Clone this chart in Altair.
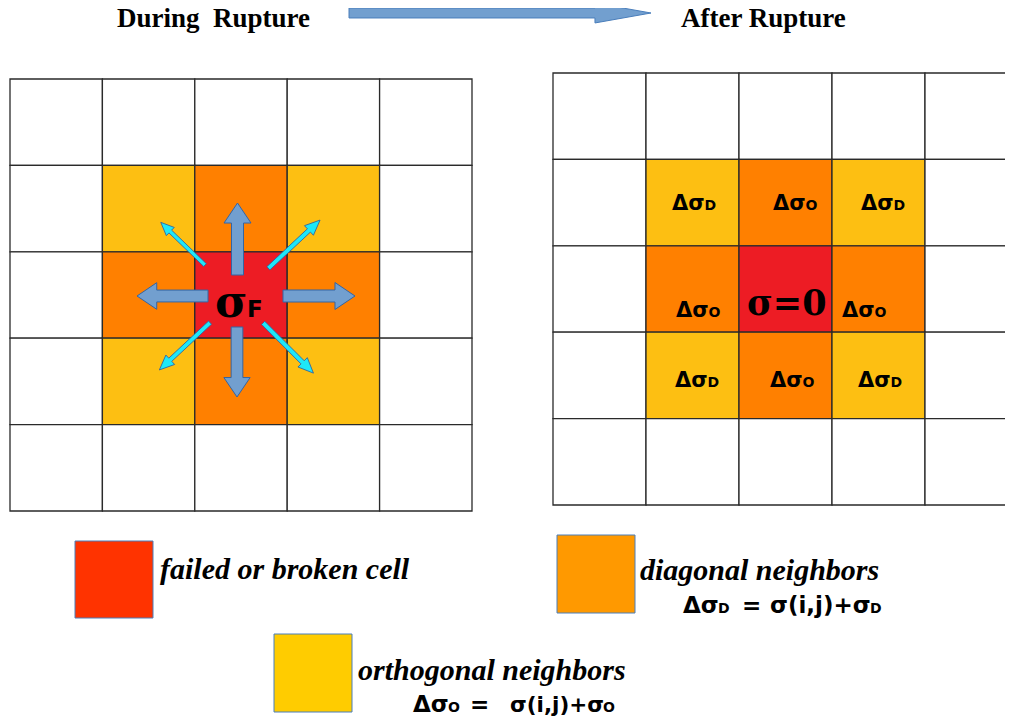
import altair as alt
import pandas as pd

# ---------------- content ----------------
CELL_TYPES = [
    "eeeee",
    "eyoye",
    "eoroe",
    "eyoye",
    "eeeee",
]
CELL_COLORS = {"e": "#FFFFFF", "y": "#FDBF12", "o": "#FF8000", "r": "#ED1C24"}

TITLES = ["During\u00a0 Rupture", "After Rupture"]
LEGEND_LABELS = ["failed or broken cell", "diagonal neighbors", "orthogonal neighbors"]
LEGEND_COLORS = ["#FF3300", "#FF9900", "#FFCC00"]
CELL_LABEL_SUBS = ["D", "O", "D", "O", "O", "D", "O", "D"]

# ---------------- layout ----------------
GRID_X0 = [10, 553]
GRID_Y0 = [79, 73]
CELL_W = [92.4, 93.0]
CELL_H = [86.4, 86.4]

TITLE_X = [117, 681]
TITLE_Y = [27, 27]

LEG_X = [75, 557, 274]
LEG_X2 = [153, 635, 352]
LEG_Y = [541, 535, 634]
LEG_Y2 = [618, 613, 712]
LEG_TX = [160, 640, 358]
LEG_TY = [579, 580, 680]

LABEL_X = [672, 773, 861, 676, 842, 675, 770, 858]
LABEL_Y = [210, 210, 210, 317, 317, 387, 387, 387]

# ---------------- tables ----------------
cells = []
for g in range(2):
    for r, row in enumerate(CELL_TYPES):
        for c, t in enumerate(row):
            cells.append({
                "x": GRID_X0[g] + c * CELL_W[g],
                "x2": GRID_X0[g] + (c + 1) * CELL_W[g],
                "y": GRID_Y0[g] + r * CELL_H[g],
                "y2": GRID_Y0[g] + (r + 1) * CELL_H[g],
                "fill": CELL_COLORS[t],
            })
cells = pd.DataFrame(cells)

legend = pd.DataFrame({"x": LEG_X, "x2": LEG_X2, "y": LEG_Y, "y2": LEG_Y2, "fill": LEGEND_COLORS})
titles = pd.DataFrame({"x": TITLE_X, "y": TITLE_Y, "t": TITLES})
leg_text = pd.DataFrame({"x": LEG_TX, "y": LEG_TY, "t": LEGEND_LABELS})

sans_rows = []
for lx, ly, s in zip(LABEL_X, LABEL_Y, CELL_LABEL_SUBS):
    sans_rows.append({"x": lx, "y": ly, "t": "Δσ", "fs": 21})
    sans_rows.append({"x": lx + 32.5, "y": ly, "t": s, "fs": 14})
# formulas
for parts, base in [
    ([("Δσ", 683, 23), ("D", 718, 14), ("=", 742, 23), ("σ(i,j)+σ", 770, 23), ("D", 870, 14)], 613),
    ([("Δσ", 413, 23), ("O", 448, 14), ("=", 470, 23), ("σ(i,j)+σ", 510, 21.5), ("O", 603, 14)], 712),
]:
    for t, x, fs in parts:
        sans_rows.append({"x": x, "y": base, "t": t, "fs": fs})
sans_rows.append({"x": 247, "y": 317, "t": "F", "fs": 23})
sans_text = pd.DataFrame(sans_rows)

serif_big = pd.DataFrame([
    {"x": 215, "y": 317, "t": "σ", "fs": 44},
    {"x": 747, "y": 315, "t": "σ=0", "fs": 35},
])

BLUE_PATH = "M-1,-0.167L0.444,-0.167L0.444,-0.375L1,0L0.444,0.375L0.444,0.167L-1,0.167Z"
CYAN_PATH = "M-1,-0.063L0.57,-0.063L0.57,-0.186L1,0L0.57,0.186L0.57,0.063L-1,0.063Z"
TOP_PATH = "M-1,-0.033L0.629,-0.033L0.629,-0.066L1,0L0.629,0.066L0.629,0.033L-1,0.033Z"

blue_arrows = pd.DataFrame({
    "x": [237.5, 237, 172.5, 319],
    "y": [239, 362, 296, 296],
    "len": [72, 70, 71, 72],
    "ang": [270, 90, 180, 0],
})
blue_arrows["size"] = blue_arrows["len"] ** 2
cyan_arrows = pd.DataFrame({
    "x": [182.9, 294.2, 184.7, 288.3],
    "y": [243.7, 244.2, 346.3, 348],
    "len": [61.5, 70.7, 69.3, 71.1],
    "ang": [224, 317, 137, 45],
})
cyan_arrows["size"] = cyan_arrows["len"] ** 2
top_arrow = pd.DataFrame({"x": [500], "y": [13], "len": [302], "ang": [0]})
top_arrow["size"] = top_arrow["len"] ** 2

# ---------------- chart ----------------
PLOT_W = 997
PLOT_H = 708
xs = alt.Scale(domain=[8, 8 + PLOT_W], nice=False, zero=False)
ys = alt.Scale(domain=[8, 8 + PLOT_H], nice=False, zero=False, reverse=True)


def X(f="x"):
    return alt.X(f"{f}:Q", scale=xs, axis=None)


def Y(f="y"):
    return alt.Y(f"{f}:Q", scale=ys, axis=None)


cell_layer = alt.Chart(cells).mark_rect(stroke="#2a2a2a", strokeWidth=1.3).encode(
    x=X(), x2="x2:Q", y=Y(), y2="y2:Q", fill=alt.Fill("fill:N", scale=None)
)
legend_layer = alt.Chart(legend).mark_rect(stroke="#4A7EBB", strokeWidth=1).encode(
    x=X(), x2="x2:Q", y=Y(), y2="y2:Q", fill=alt.Fill("fill:N", scale=None)
)


def arrows(df, path, fill, stroke, sw):
    return alt.Chart(df).mark_point(
        shape=path, filled=True, fill=fill, stroke=stroke, strokeWidth=sw,
        opacity=1, fillOpacity=1, strokeOpacity=1
    ).encode(
        x=X(), y=Y(),
        size=alt.Size("size:Q", scale=None),
        angle=alt.Angle("ang:Q", scale=None),
    )


blue_layer = arrows(blue_arrows, BLUE_PATH, "#729FCF", "#3465A4", 1)
cyan_layer = arrows(cyan_arrows, CYAN_PATH, "#1EE8F8", "#2F5FA0", 0.8)
top_layer = arrows(top_arrow, TOP_PATH, "#729FCF", "#4A7EBB", 1)

title_layer = alt.Chart(titles).mark_text(
    font="Liberation Serif", fontWeight="bold", fontSize=27, align="left",
    baseline="alphabetic", color="black"
).encode(x=X(), y=Y(), text="t:N")

leg_text_layer = alt.Chart(leg_text).mark_text(
    font="Liberation Serif", fontWeight="bold", fontStyle="italic", fontSize=30,
    align="left", baseline="alphabetic", color="black"
).encode(x=X(), y=Y(), text="t:N")

sans_layer = alt.Chart(sans_text).mark_text(
    font="DejaVu Sans", fontWeight="bold", align="left", baseline="alphabetic", color="black"
).encode(x=X(), y=Y(), text="t:N", size=alt.Size("fs:Q", scale=None))

serif_layer = alt.Chart(serif_big).mark_text(
    font="DejaVu Serif", fontWeight="bold", align="left", baseline="alphabetic", color="black"
).encode(x=X(), y=Y(), text="t:N", size=alt.Size("fs:Q", scale=None))

chart = alt.layer(
    cell_layer, legend_layer, blue_layer, cyan_layer, top_layer,
    title_layer, leg_text_layer, sans_layer, serif_layer
).properties(
    width=PLOT_W, height=PLOT_H,
    autosize=alt.AutoSizeParams(type="none"),
    padding=0,
    background="white",
).configure_view(stroke=None)

chart.save("out.html", embed_options={"renderer": "svg", "actions": False})
